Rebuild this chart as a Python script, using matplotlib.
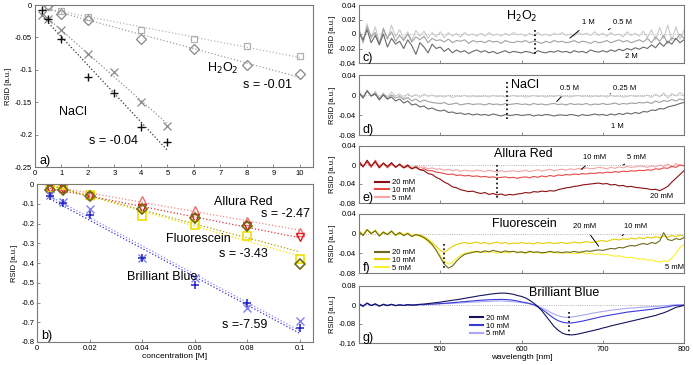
import numpy as np
import matplotlib
matplotlib.use("Agg")
import matplotlib.pyplot as plt
from matplotlib.lines import Line2D

plt.rcParams["font.family"] = ["Liberation Sans", "DejaVu Sans"]

# ---- panel a: H2O2 / NaCl vs concentration [M]
h2o2_x = [0.5, 1, 2, 4, 6, 8, 10]
h2o2_sq = [-0.003, -0.009, -0.018, -0.039, -0.053, -0.063, -0.079]
h2o2_di = [0.0, -0.014, -0.023, -0.052, -0.068, -0.092, -0.107]
nacl_x = [0.25, 0.5, 1, 2, 3, 4, 5]
nacl_x_mark = [-0.015, -0.021, -0.039, -0.075, -0.103, -0.150, -0.186]
nacl_plus = [-0.007, -0.021, -0.052, -0.111, -0.136, -0.189, -0.211]

# ---- panel b: dyes vs concentration [M]
dye_x = [0.005, 0.01, 0.02, 0.04, 0.06, 0.08, 0.1]
ar_up = [-0.017, -0.020, -0.054, -0.080, -0.130, -0.185, -0.244]
ar_down = [-0.024, -0.027, -0.059, -0.122, -0.173, -0.215, -0.270]
fl_sq = [-0.020, -0.003, -0.058, -0.164, -0.210, -0.263, -0.380]
fl_di = [-0.029, -0.029, -0.063, -0.127, -0.173, -0.215, -0.407]
bb_x = [-0.054, -0.092, -0.125, -0.373, -0.478, -0.627, -0.695]
bb_plus = [-0.063, -0.097, -0.159, -0.376, -0.512, -0.602, -0.727]

# ---- spectra, RSID in 1e-3 a.u., 400..800 nm every 5 nm
wl = np.arange(400, 801, 5)

c_05 = [8, -10, 14, -6, 10, -12, 5, -8, 12, -4,
        6, -7, 3, -9, 5, -3, 4, -6, 2, -4,
        3, -5, 2, -3, 1, -4, 2, -2, 0, -3,
        1, -3, 2, -2, 0, -3, 1, -2, 2, -1,
        0, -3, 1, -2, 2, -2, 0, -3, 1, -1,
        2, -2, 0, -3, 2, -1, 1, -2, 3, -2,
        1, -3, 2, -2, 0, -4, 3, -2, 1, -3,
        4, -5, 6, -8, 9, -6, 12, -9, 10, -7, 5]
c_1 = [5, -12, 10, -4, 2, -14, 8, -6, 3, -10,
       -2, -9, 0, -11, -4, -8, -3, -12, -6, -9,
       -8, -11, -7, -12, -9, -10, -8, -13, -9, -11,
       -10, -12, -9, -11, -10, -13, -9, -11, -12, -10,
       -11, -9, -12, -10, -11, -13, -10, -12, -9, -11,
       -10, -12, -11, -9, -12, -10, -11, -13, -10, -12,
       -11, -9, -12, -10, -8, -11, -9, -12, -10, -8,
       -11, -6, -12, -4, -10, -2, -13, -5, -8, 0, -6]
c_2 = [2, -8, 6, -12, -2, -15, 0, -18, -6, -14,
       -10, -20, -8, -16, -28, -12, -18, -26, -14, -20,
       -18, -24, -20, -26, -22, -25, -23, -27, -24, -22,
       -25, -23, -26, -24, -27, -25, -23, -26, -24, -25,
       -26, -24, -25, -27, -23, -25, -26, -24, -25, -23,
       -25, -24, -26, -23, -25, -24, -26, -22, -24, -25,
       -23, -25, -22, -24, -21, -23, -20, -22, -19, -21,
       -18, -20, -15, -19, -12, -17, -10, -14, -6, -12, -8]

d_025 = [5, -6, 10, -3, 8, -8, 4, -5, 6, -2,
         2, -6, 3, -4, 1, -5, 2, -3, 0, -4,
         -2, -4, -1, -5, -2, -3, -1, -4, -2, -3,
         -3, -2, -4, -1, -3, -2, -4, -3, -1, -3,
         -2, -4, -3, -1, -3, -2, -4, -2, -3, -1,
         -3, -2, -4, -2, -1, -3, -2, -4, -2, -3,
         -2, -4, -1, -3, -2, -4, -3, -1, -3, -2,
         -3, 0, -5, 2, -4, 4, -6, 3, -2, 5, -1]
d_05 = [6, -4, 9, -2, 4, -7, 2, -8, 0, -6,
        -3, -9, -5, -12, -8, -14, -10, -13, -15, -16,
        -17, -15, -19, -18, -16, -20, -18, -17, -19, -18,
        -18, -20, -17, -19, -18, -20, -17, -19, -18, -17,
        -19, -18, -20, -17, -19, -18, -20, -18, -17, -19,
        -18, -20, -17, -19, -18, -19, -17, -20, -18, -19,
        -17, -19, -18, -16, -19, -17, -18, -16, -17, -15,
        -16, -14, -17, -12, -15, -11, -13, -9, -12, -8, -10]
d_1 = [4, -6, 8, -2, 2, -10, 0, -8, -4, -12,
       -8, -16, -12, -20, -18, -24, -22, -28, -26, -30,
       -32, -30, -35, -34, -37, -36, -39, -37, -40, -38,
       -40, -39, -41, -38, -40, -42, -39, -41, -40, -39,
       -41, -40, -39, -42, -40, -41, -39, -40, -42, -40,
       -40, -41, -39, -40, -42, -39, -41, -40, -38, -40,
       -39, -41, -38, -40, -37, -39, -36, -38, -35, -37,
       -33, -34, -30, -31, -27, -28, -24, -22, -20, -17, -15]

e_5 = [6, -4, 8, -2, 5, -6, 3, -3, 4, -5,
       2, -4, 0, -6, -2, -5, -4, -8, -6, -9,
       -8, -11, -9, -12, -10, -13, -11, -12, -13, -11,
       -12, -14, -11, -13, -15, -12, -14, -13, -12, -14,
       -13, -11, -14, -12, -10, -13, -11, -9, -12, -10,
       -9, -11, -8, -10, -7, -9, -6, -8, -7, -5,
       -6, -8, -5, -7, -4, -6, -3, -5, -4, -2,
       -3, -5, -2, -4, 0, -3, 2, -4, 3, -1, 0]
e_10 = [8, -2, 6, -5, 10, -3, 4, -6, 2, -4,
        0, -6, -3, -8, -5, -10, -8, -12, -12, -15,
        -16, -18, -20, -19, -22, -21, -23, -22, -24, -23,
        -25, -24, -26, -25, -27, -26, -25, -27, -26, -28,
        -26, -25, -27, -24, -26, -23, -25, -22, -24, -21,
        -22, -20, -21, -19, -20, -18, -19, -17, -18, -16,
        -17, -15, -16, -14, -15, -13, -14, -12, -13, -11,
        -12, -10, -11, -8, -9, -6, -7, -3, -5, 0, -2]
e_20 = [6, -4, 10, -2, 7, -6, 4, -3, 5, -5,
        2, -6, 0, -8, -4, -10, -12, -18, -20, -26,
        -30, -36, -40, -46, -48, -52, -54, -56, -55, -58,
        -60, -58, -62, -60, -63, -61, -64, -62, -63, -61,
        -60, -58, -59, -56, -57, -55, -56, -54, -55, -52,
        -50, -48, -47, -45, -44, -42, -41, -40, -39, -38,
        -40, -39, -42, -41, -44, -43, -46, -45, -47, -48,
        -49, -50, -52, -51, -54, -50, -45, -36, -28, -20, -12]

f_20 = [4, -4, 8, 0, 6, -5, 3, -2, 5, -3,
        2, -4, 0, -6, -2, -4, -8, -14, -22, -34,
        -48, -62, -70, -66, -56, -48, -42, -40, -38, -36,
        -38, -35, -37, -34, -36, -38, -35, -37, -36, -38,
        -37, -39, -36, -38, -37, -39, -38, -36, -38, -37,
        -39, -37, -38, -36, -38, -37, -35, -36, -34, -33,
        -34, -32, -30, -31, -28, -29, -26, -24, -25, -22,
        -20, -22, -18, -20, -15, 2, -12, -14, -10, -12, -8]
f_10 = [6, -2, 9, 1, 5, -4, 4, -1, 6, -3,
        3, -2, 1, -5, -1, -3, -6, -12, -18, -26,
        -34, -38, -32, -26, -22, -20, -18, -20, -19, -17,
        -20, -18, -21, -19, -17, -20, -18, -21, -19, -20,
        -18, -20, -19, -21, -18, -20, -19, -18, -20, -19,
        -18, -20, -19, -17, -19, -18, -16, -18, -17, -15,
        -14, -16, -13, -11, -13, -10, -12, -9, -11, -8,
        -10, -7, -9, -6, -8, -5, -7, -4, -6, -3, -5]
f_5 = [5, -3, 7, -1, 8, -4, 2, -2, 4, -4,
       0, -3, 2, -4, -3, -6, -10, -16, -24, -32,
       -44, -56, -62, -58, -50, -44, -40, -38, -36, -38,
       -37, -39, -36, -38, -40, -37, -39, -38, -36, -39,
       -38, -40, -37, -39, -38, -40, -39, -37, -39, -40,
       -38, -40, -39, -41, -40, -38, -41, -40, -42, -41,
       -43, -42, -44, -46, -45, -47, -49, -48, -50, -52,
       -51, -54, -53, -56, -58, -55, -57, -50, -40, -28, -22]

g_20 = [4, -6, 8, -2, 5, -4, 2, -3, 3, -2,
        0, -2, 2, -1, 1, 3, 4, 6, 8, 10,
        12, 15, 17, 20, 22, 25, 28, 31, 34, 37,
        40, 42, 45, 47, 49, 50, 50, 48, 45, 40,
        36, 30, 20, 8, -6, -24, -46, -68, -90, -106,
        -118, -124, -126, -125, -122, -118, -114, -110, -106, -102,
        -97, -93, -88, -84, -80, -76, -72, -68, -64, -60,
        -56, -52, -48, -44, -38, -33, -26, -18, -10, -6, -2]
g_10 = [5, -4, 7, -3, 4, -5, 3, -2, 2, -3,
        1, -2, 0, 1, -1, 2, 1, 3, 4, 5,
        6, 7, 8, 10, 11, 13, 14, 16, 17, 19,
        20, 21, 22, 23, 23, 24, 23, 22, 20, 17,
        13, 10, 6, 1, -8, -18, -30, -44, -56, -66,
        -72, -75, -76, -74, -71, -68, -64, -60, -56, -52,
        -48, -45, -42, -39, -36, -33, -30, -28, -26, -24,
        -22, -20, -18, -15, -13, -10, -8, -4, -2, -1, 0]
g_5 = [6, -3, 8, -2, 3, -6, 4, -1, 3, -4,
       2, -1, 1, -2, 0, 1, 2, 3, 3, 4,
       5, 6, 6, 7, 8, 9, 10, 11, 12, 13,
       14, 15, 15, 16, 17, 17, 16, 15, 14, 12,
       10, 8, 5, 1, -5, -12, -20, -30, -38, -45,
       -50, -52, -51, -49, -46, -43, -40, -36, -33, -30,
       -27, -25, -22, -20, -18, -16, -14, -13, -12, -10,
       -9, -8, -7, -6, -5, -3, -2, 0, 1, 0, 0]

W, H = 693, 365
fig = plt.figure(figsize=(W / 100, H / 100), dpi=100)


def box(l, t, r, b):
    return fig.add_axes([l / W, (H - b) / H, (r - l) / W, (b - t) / H])


def style(ax):
    for s in ax.spines.values():
        s.set_color("#7a7a7a")
        s.set_linewidth(0.8)
    ax.tick_params(direction="in", length=2, width=0.6, color="#7a7a7a",
                   labelsize=5.5, pad=2)


def fmt(v):
    s = ("%.2f" % v).rstrip("0").rstrip(".")
    return "0" if s in ("-0", "0") else s


def fit(ax, x, y, color):
    k, b = np.polyfit(x, y, 1)
    xx = np.array([min(x), max(x)])
    ax.plot(xx, k * xx + b, ":", color=color, lw=0.9)


# ---------------- a)
ax = box(35, 5, 313, 167)
style(ax)
fit(ax, h2o2_x, h2o2_sq, "#b8b8b8")
fit(ax, h2o2_x, h2o2_di, "#a0a0a0")
fit(ax, nacl_x, nacl_x_mark, "#909090")
fit(ax, nacl_x, nacl_plus, "#303030")
ax.plot(h2o2_x, h2o2_sq, "s", mfc="none", mec="#b0b0b0", ms=5, mew=0.9)
ax.plot(h2o2_x, h2o2_di, "D", mfc="none", mec="#888888", ms=5, mew=0.9)
ax.plot(nacl_x, nacl_x_mark, "x", color="#8a8a8a", ms=6, mew=0.9)
ax.plot(nacl_x, nacl_plus, "+", color="#111111", ms=6, mew=1.0)
ax.set_xlim(0, 10.5)
ax.set_ylim(-0.25, 0)
ax.set_xticks(range(11))
ax.set_yticks([-0.25, -0.2, -0.15, -0.1, -0.05, 0])
ax.set_yticklabels([fmt(v) for v in ax.get_yticks()])
ax.set_ylabel("RSID [a.u.]", fontsize=5.5, labelpad=2)
ax.text(7.1, -0.098, "H$_2$O$_2$", fontsize=9, ha="center", va="center")
ax.text(8.8, -0.123, "s = -0.01", fontsize=9, ha="center", va="center")
ax.text(1.45, -0.165, "NaCl", fontsize=9, ha="center", va="center")
ax.text(2.95, -0.21, "s = -0.04", fontsize=9, ha="center", va="center")
ax.text(0.015, 0.02, "a)", fontsize=9, transform=ax.transAxes)

# ---------------- b)
ax = box(37, 184, 313, 342)
style(ax)
fit(ax, dye_x, ar_up, "#f08888")
fit(ax, dye_x, ar_down, "#e03030")
fit(ax, dye_x, fl_sq, "#f0e000")
fit(ax, dye_x, fl_di, "#a8a000")
fit(ax, dye_x, bb_x, "#8888ff")
fit(ax, dye_x, bb_plus, "#3030c8")
ax.plot(dye_x, ar_up, "^", mfc="none", mec="#f07070", ms=5.5, mew=1.0)
ax.plot(dye_x, ar_down, "v", mfc="none", mec="#d82020", ms=5.5, mew=1.0)
ax.plot(dye_x, fl_sq, "s", mfc="none", mec="#eee000", ms=5.5, mew=1.2)
ax.plot(dye_x, fl_di, "D", mfc="none", mec="#6e6a10", ms=5, mew=1.2)
ax.plot(dye_x, bb_x, "x", color="#8080f0", ms=6, mew=1.0)
ax.plot(dye_x, bb_plus, "+", color="#2020c0", ms=6, mew=1.1)
ax.set_xlim(0, 0.105)
ax.set_ylim(-0.8, 0)
ax.set_xticks([0, 0.02, 0.04, 0.06, 0.08, 0.1])
ax.set_xticklabels([fmt(v) for v in ax.get_xticks()])
ax.set_yticks(np.arange(-0.8, 0.01, 0.1))
ax.set_yticklabels([fmt(v) for v in ax.get_yticks()])
ax.set_ylabel("RSID [a.u.]", fontsize=5.5, labelpad=2)
ax.set_xlabel("concentration [M]", fontsize=6, labelpad=1)
ax.text(0.0785, -0.09, "Allura Red", fontsize=9, ha="center", va="center")
ax.text(0.0945, -0.15, "s = -2.47", fontsize=9, ha="center", va="center")
ax.text(0.0615, -0.28, "Fluorescein", fontsize=9, ha="center", va="center")
ax.text(0.0785, -0.355, "s = -3.43", fontsize=9, ha="center", va="center")
ax.text(0.0475, -0.47, "Brilliant Blue", fontsize=9, ha="center", va="center")
ax.text(0.079, -0.715, "s =-7.59", fontsize=9, ha="center", va="center")
ax.text(0.015, 0.02, "b)", fontsize=9, transform=ax.transAxes)

# ---------------- spectra c) .. g)
spectra = [
    dict(pos=(359, 5, 684, 63), ylim=(-0.04, 0.04),
         yt=[-0.04, -0.02, 0, 0.02, 0.04],
         curves=[(c_05, "#cacaca", "0.5 M"), (c_1, "#a2a2a2", "1 M"),
                 (c_2, "#6a6a6a", "2 M")],
         title=("H$_2$O$_2$", 600, 0.024), tag="c)", mark=(617, 0.005, -0.031)),
    dict(pos=(359, 75, 684, 135), ylim=(-0.08, 0.04),
         yt=[-0.08, -0.04, 0, 0.04],
         curves=[(d_025, "#cacaca", "0.25 M"), (d_05, "#a0a0a0", "0.5 M"),
                 (d_1, "#686868", "1 M")],
         title=("NaCl", 604, 0.02), tag="d)", mark=(582, 0.027, -0.05)),
    dict(pos=(359, 146, 684, 203), ylim=(-0.08, 0.04),
         yt=[-0.08, -0.04, 0, 0.04],
         curves=[(e_5, "#f4a4a4", "5 mM"), (e_10, "#e84848", "10 mM"),
                 (e_20, "#8a1010", "20 mM")],
         title=("Allura Red", 602, 0.024), tag="e)", mark=(570, 0.0, -0.07)),
    dict(pos=(359, 214, 684, 273), ylim=(-0.08, 0.04),
         yt=[-0.08, -0.04, 0, 0.04],
         curves=[(f_5, "#fbf02a", "5 mM"), (f_10, "#e2cf00", "10 mM"),
                 (f_20, "#6e6a1c", "20 mM")],
         title=("Fluorescein", 604, 0.02), tag="f)", mark=(504, -0.02, -0.074)),
    dict(pos=(359, 286, 684, 343), ylim=(-0.16, 0.08),
         yt=[-0.16, -0.08, 0, 0.08],
         curves=[(g_5, "#a8a8f4", "5 mM"), (g_10, "#3a3ad8", "10 mM"),
                 (g_20, "#14145e", "20 mM")],
         title=("Brilliant Blue", 652, 0.052), tag="g)", mark=(658, -0.028, -0.126)),
]

axes = []
for p in spectra:
    ax = box(*p["pos"])
    style(ax)
    ax.axhline(0, color="#9a9a9a", lw=0.6, ls=":")
    lines = {}
    for vals, col, lab in p["curves"]:
        lines[lab] = ax.plot(wl, np.array(vals) / 1000, color=col, lw=0.8, label=lab)[0]
    m = p["mark"]
    ax.plot([m[0], m[0]], [m[1], m[2]], ":", color="black", lw=1.2)
    ax.set_xlim(400, 800)
    ax.set_ylim(*p["ylim"])
    ax.set_xticks([500, 600, 700, 800])
    ax.set_yticks(p["yt"])
    ax.set_yticklabels([fmt(v) for v in p["yt"]])
    ax.set_ylabel("RSID [a.u.]", fontsize=5.5, labelpad=2)
    t = p["title"]
    ax.text(t[1], t[2], t[0], fontsize=9, ha="center", va="center")
    ax.text(0.012, 0.03, p["tag"], fontsize=9, transform=ax.transAxes)
    ax.lines_by_label = lines
    axes.append(ax)

for ax in axes[:-1]:
    ax.tick_params(labelbottom=False)
axes[-1].set_xlabel("wavelength [nm]", fontsize=6, labelpad=1)

ann = dict(fontsize=5.5, ha="left", va="center",
           arrowprops=dict(arrowstyle="-", color="black", lw=0.7))
# c)
axes[0].annotate("1 M", xy=(657, -0.008), xytext=(675, 0.016), **ann)
axes[0].annotate("0.5 M", xy=(707, 0.006), xytext=(712, 0.016), **ann)
axes[0].text(727, -0.031, "2 M", fontsize=5.5, va="center")
# d)
axes[1].annotate("0.5 M", xy=(641, -0.017), xytext=(647, 0.013), **ann)
axes[1].annotate("0.25 M", xy=(709, 0.002), xytext=(713, 0.013), **ann)
axes[1].text(710, -0.063, "1 M", fontsize=5.5, va="center")
# e)
axes[2].annotate("10 mM", xy=(671, -0.013), xytext=(676, 0.015), **ann)
axes[2].annotate("5 mM", xy=(725, 0.0), xytext=(730, 0.015), **ann)
axes[2].text(758, -0.067, "20 mM", fontsize=5.5, va="center")
# f)
axes[3].annotate("20 mM", xy=(697, -0.03), xytext=(663, 0.014), **ann)
axes[3].annotate("10 mM", xy=(721, -0.007), xytext=(726, 0.014), **ann)
axes[3].text(776, -0.068, "5 mM", fontsize=5.5, va="center")

leg_kw = dict(frameon=False, fontsize=5.5, handlelength=1.8, handletextpad=0.4,
              labelspacing=0.05, borderpad=0, borderaxespad=0)
for ax, anchor in [(axes[2], (0.05, 0.02)), (axes[3], (0.05, 0.02)),
                   (axes[4], (0.34, 0.1))]:
    lb = ax.lines_by_label
    hs = [lb["20 mM"], lb["10 mM"], lb["5 mM"]]
    handles = [Line2D([], [], color=h.get_color(), lw=1.5) for h in hs]
    ax.legend(handles, ["20 mM", "10 mM", "5 mM"], loc="lower left",
              bbox_to_anchor=anchor, **leg_kw)

fig.savefig("out.png", dpi=100)
